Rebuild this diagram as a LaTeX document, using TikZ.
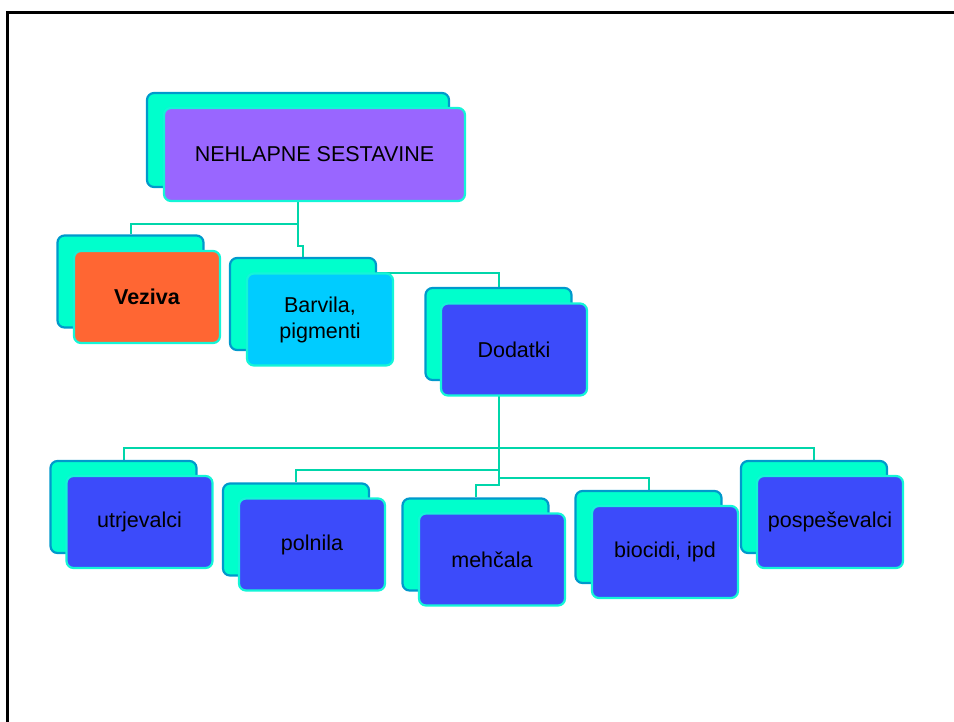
\documentclass[tikz,border=0pt]{standalone}
\usepackage{fontspec}
\setmainfont{Liberation Sans}
\usepackage{tikz}
\usetikzlibrary{calc,backgrounds}
\definecolor{conncol}{RGB}{0,214,170}
\definecolor{backfill}{RGB}{0,255,204}
\definecolor{backline}{RGB}{0,153,204}
\definecolor{frontline}{RGB}{20,245,215}
\definecolor{bluefill}{RGB}{60,75,250}
\definecolor{purplefill}{RGB}{153,102,255}
\definecolor{orangefill}{RGB}{255,102,51}
\definecolor{cyanfill}{RGB}{0,204,255}
\tikzset{
         backbox/.style=
          {
           draw=backline,
           fill=backfill,
           line width=2.2pt,
           rounded corners=7pt,
           minimum width=146pt,
           minimum height=92pt,
           inner sep=0pt
          },
         frontbox/.style=
          {
           draw=frontline,
           fill=bluefill,
           line width=2.2pt,
           rounded corners=7pt,
           minimum width=146pt,
           minimum height=92pt,
           inner sep=2pt,
           align=center,
           font=\fontsize{21.5}{26}\selectfont
          },
         conn/.style={draw=conncol,line width=2pt}
        }

\begin{document}
\begin{tikzpicture}[x=1pt,y=-1pt]
    \useasboundingbox (0,0) rectangle (954,721); % picture size
    \draw[line width=2.5pt] (7.5,12.5) rectangle (980,760); % frame
    \node[backbox,minimum width=302pt,minimum height=94pt] (top-b) at (298,140) {}; % top back
    \node[frontbox,fill=purplefill,minimum width=301pt,minimum height=93pt] (top) at (314.5,154.5) {NEHLAPNE SESTAVINE}; % top front
    \node[backbox] (vez-b) at (130.5,281.5) {}; % veziva back
    \node[frontbox,fill=orangefill] (vez) at (147,297) {\bfseries Veziva}; % veziva front
    \node[backbox] (bar-b) at (303,304) {}; % barvila back
    \node[frontbox,fill=cyanfill] (bar) at (320,319.5) {Barvila,\\pigmenti}; % barvila front
    \node[backbox] (dod-b) at (498.5,334) {}; % dodatki back
    \node[frontbox] (dod) at (514,349.5) {Dodatki}; % dodatki front
    \node[backbox] (utr-b) at (123.5,507) {}; % utrjevalci back
    \node[frontbox] (utr) at (139.5,522) {utrjevalci}; % utrjevalci front
    \node[backbox] (pol-b) at (296,529.5) {}; % polnila back
    \node[frontbox] (pol) at (312,544.5) {polnila}; % polnila front
    \node[backbox] (meh-b) at (475.5,544.5) {}; % mehcala back
    \node[frontbox] (meh) at (492,559.5) {meh\v{c}ala}; % mehcala front
    \node[backbox] (bio-b) at (648.5,537) {}; % biocidi back
    \node[frontbox] (bio) at (665,552) {biocidi, ipd}; % biocidi front
    \node[backbox] (pos-b) at (814,507) {}; % pospesevalci back
    \node[frontbox] (pos) at (830,522) {pospe\v{s}evalci}; % pospesevalci front
    \begin{pgfonlayer}{background}
    \draw[conn] (top-b.south) -- ++(0,36) -| (vez-b.north); % to veziva
    \draw[conn] (top-b.south) -- ++(0,58) -| (bar-b.north); % to barvila
    \draw[conn] (bar-b.north) -- ++(0,16) -| (dod-b.north); % to dodatki
    \draw[conn] (dod-b.south) -- ++(0,66.5) -| (utr-b.north); % to utrjevalci
    \draw[conn] (dod-b.south) -- ++(0,66.5) -| (pos-b.north); % to pospesevalci
    \draw[conn] (dod-b.south) -- ++(0,88.5) -| (pol-b.north); % to polnila
    \draw[conn] (dod-b.south) -- ++(0,96.5) -| (bio-b.north); % to biocidi
    \draw[conn] (dod-b.south) -- ++(0,103.5) -| (meh-b.north); % to mehcala
    \end{pgfonlayer}
\end{tikzpicture}
\end{document}
